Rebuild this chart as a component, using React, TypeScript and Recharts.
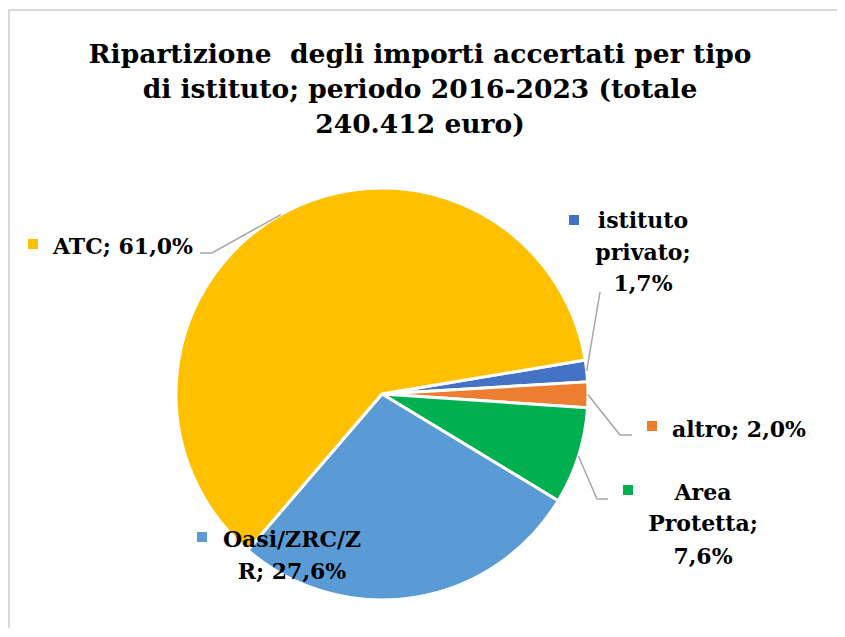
import React from 'react';
import { PieChart, Pie, Cell } from 'recharts';

const categories = ['istituto privato', 'altro', 'Area Protetta', 'Oasi/ZRC/ZR', 'ATC'];
const shares = [1.7, 2.0, 7.6, 27.6, 61.0];
const sliceColors = ['#4472C4', '#ED7D31', '#00B050', '#5B9BD5', '#FFC000'];
const labelLines = [
  ['istituto', 'privato;', '1,7%'],
  ['altro; 2,0%'],
  ['Area', 'Protetta;', '7,6%'],
  ['Oasi/ZRC/Z', 'R; 27,6%'],
  ['ATC; 61,0%'],
];
const titleLines = [
  'Ripartizione  degli importi accertati per tipo',
  'di istituto; periodo 2016-2023 (totale',
  '240.412 euro)',
];

const data = categories.map((name, i) => ({ name, value: shares[i] }));

// label placement (chart coordinates), kept apart from the values
const labelLayout = [
  { marker: [561, 207], textX: 635, anchor: 'middle', baselines: [220, 252, 283], leader: [[592, 284]] },
  { marker: [639, 413], textX: 664, anchor: 'start', baselines: [429], leader: [[612, 427], [624, 427]] },
  { marker: [615, 477], textX: 695, anchor: 'middle', baselines: [492, 523, 556], leader: [[589, 491], [600, 491]] },
  { marker: [189, 524], textX: 284, anchor: 'middle', baselines: [539, 571], leader: [] },
  { marker: [20, 231], textX: 45, anchor: 'start', baselines: [246], leader: [[204, 245], [192, 245]] },
];

const RADIAN = Math.PI / 180;
const labelFont = '"DejaVu Serif", serif';

const renderLabel = (props: any) => {
  const { cx, cy, midAngle, outerRadius, index } = props;
  const layout = labelLayout[index];
  const sx = cx + outerRadius * Math.cos(-midAngle * RADIAN);
  const sy = cy + outerRadius * Math.sin(-midAngle * RADIAN);
  const pts = [[sx, sy], ...layout.leader];
  return (
    <g key={`lbl-${index}`}>
      {layout.leader.length > 0 && (
        <polyline
          points={pts.map((p) => p.join(',')).join(' ')}
          fill="none"
          stroke="#a6a6a6"
          strokeWidth={1.5}
        />
      )}
      <rect x={layout.marker[0]} y={layout.marker[1]} width={10} height={10} fill={sliceColors[index]} />
      {labelLines[index].map((line, j) => (
        <text
          key={j}
          x={layout.textX}
          y={layout.baselines[j]}
          textAnchor={layout.anchor}
          fontFamily={labelFont}
          fontWeight="bold"
          fontSize={22}
          fill="#000"
        >
          {line}
        </text>
      ))}
    </g>
  );
};

export default function App() {
  return (
    <div style={{ position: 'relative', width: 837, height: 629, marginBottom: -9, overflow: 'hidden' }}>
      <style>{'html, body { overflow: hidden; }'}</style>
      <div
        style={{
          position: 'absolute',
          left: 0,
          top: 1,
          width: 900,
          height: 700,
          borderTop: '2px solid #d9d9d9',
          borderLeft: '2px solid #d9d9d9',
          boxSizing: 'border-box',
        }}
      />
      <svg width={837} height={150} style={{ position: 'absolute', left: 0, top: 0 }}>
        {titleLines.map((line, i) => (
          <text
            key={i}
            x={412}
            y={55 + i * 35}
            textAnchor="middle"
            fontFamily={labelFont}
            fontWeight="bold"
            fontSize={26.5}
            fill="#000"
            style={{ whiteSpace: 'pre' }}
          >
            {line}
          </text>
        ))}
      </svg>
      <div style={{ position: 'absolute', left: 0, top: 0 }}>
        <PieChart width={837} height={629}>
          <Pie
            data={data}
            dataKey="value"
            nameKey="name"
            cx={369}
            cy={381}
            outerRadius={206}
            startAngle={9.5}
            endAngle={-350.5}
            stroke="#ffffff"
            strokeWidth={3}
            label={renderLabel}
            labelLine={false}
            isAnimationActive={false}
          >
            {data.map((d, i) => (
              <Cell key={d.name} fill={sliceColors[i]} />
            ))}
          </Pie>
        </PieChart>
      </div>
    </div>
  );
}
